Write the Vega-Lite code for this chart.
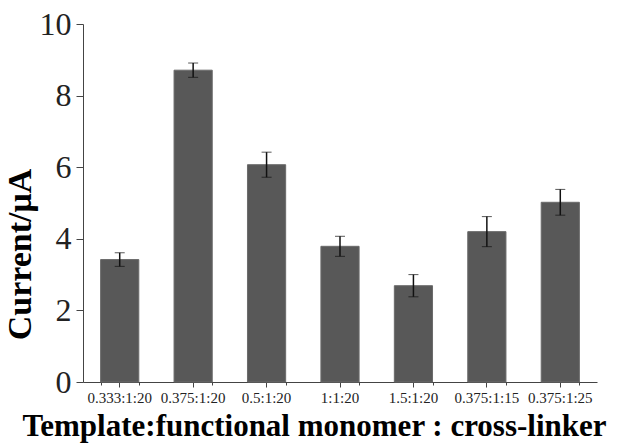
{
  "$schema": "https://vega.github.io/schema/vega-lite/v6.json",
  "width": 514,
  "height": 358,
  "autosize": "none",
  "padding": {"left": 83, "top": 24, "right": 27, "bottom": 64},
  "background": "white",
  "config": {
    "view": {"stroke": null},
    "font": "Times New Roman, Liberation Serif, serif"
  },
  "data": {
    "values": [
      {"ratio": "0.333:1:20", "current": 3.42, "err": 0.19},
      {"ratio": "0.375:1:20", "current": 8.71, "err": 0.2},
      {"ratio": "0.5:1:20", "current": 6.07, "err": 0.35},
      {"ratio": "1:1:20", "current": 3.79, "err": 0.28},
      {"ratio": "1.5:1:20", "current": 2.69, "err": 0.31},
      {"ratio": "0.375:1:15", "current": 4.2, "err": 0.42},
      {"ratio": "0.375:1:25", "current": 5.02, "err": 0.36}
    ]
  },
  "resolve": {"axis": {"x": "independent"}},
  "layer": [
    {
      "mark": {"type": "bar", "color": "#585858", "stroke": "#6a6a6a", "strokeWidth": 1},
      "encoding": {
        "x": {
          "field": "ratio",
          "type": "nominal",
          "sort": null,
          "scale": {"paddingInner": 0.48, "paddingOuter": 0.24},
          "axis": {
            "orient": "bottom",
            "title": "Template:functional monomer : cross-linker",
            "titleFont": "Times New Roman, Liberation Serif, serif",
            "titleFontSize": 31,
            "titleFontWeight": "bold",
            "titleColor": "black",
            "titlePadding": 6,
            "titleX": 231,
            "labelAngle": 0,
            "labelFont": "Times New Roman, Liberation Serif, serif",
            "labelFontSize": 15,
            "labelColor": "#222",
            "labelPadding": 3,
            "domainColor": "#444",
            "tickColor": "#444",
            "tickSize": 5
          }
        },
        "y": {
          "field": "current",
          "type": "quantitative",
          "title": "Current/μA",
          "scale": {"domain": [0, 10], "nice": false},
          "axis": {
            "titleFont": "Times New Roman, Liberation Serif, serif",
            "titleFontSize": 34,
            "titleFontWeight": "bold",
            "titleColor": "black",
            "titleX": -46,
            "titleY": 230,
            "titleBaseline": "bottom",
            "values": [0, 1, 2, 3, 4, 5, 6, 7, 8, 9, 10],
            "labelExpr": "datum.value % 2 == 0 ? datum.label : ''",
            "labelFont": "Times New Roman, Liberation Serif, serif",
            "labelFontSize": 32,
            "labelColor": "#222",
            "labelPadding": 5,
            "grid": false,
            "domainColor": "#444",
            "tickColor": "#444",
            "tickSize": {"condition": {"test": "datum.value % 2 == 0", "value": 7}, "value": 4}
          }
        }
      }
    },
    {
      "mark": {"type": "errorbar", "ticks": {"size": 10, "color": "#111", "strokeWidth": 1.5}, "rule": {"color": "#111", "strokeWidth": 1.5}},
      "encoding": {
        "x": {
          "field": "ratio",
          "type": "nominal",
          "sort": null,
          "axis": {
            "orient": "bottom",
            "offset": 0,
            "title": null,
            "labels": false,
            "domain": false,
            "tickBand": "extent",
            "tickColor": "#444",
            "tickSize": 3
          }
        },
        "y": {"field": "current", "type": "quantitative", "title": "Current/μA"},
        "yError": {"field": "err"}
      }
    }
  ]
}
